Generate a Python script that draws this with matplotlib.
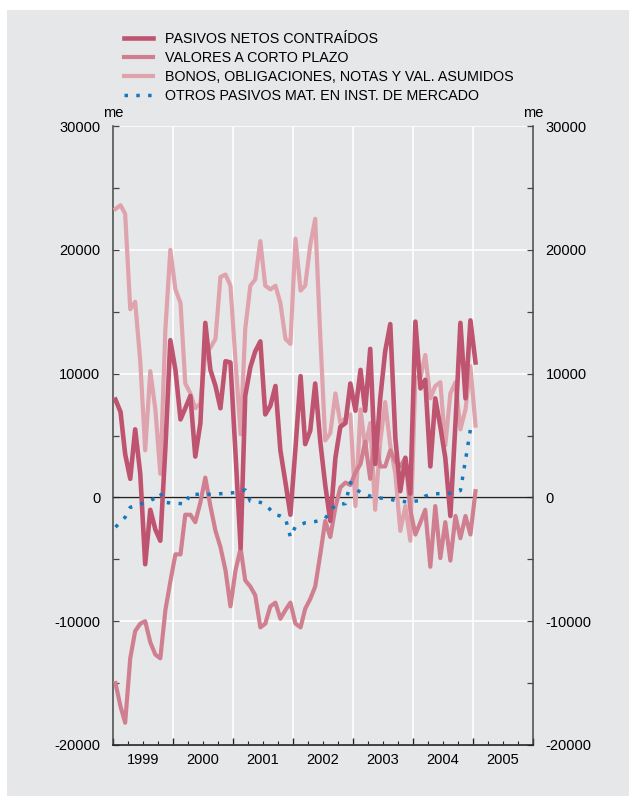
import numpy as np
import pandas as pd
import matplotlib
matplotlib.use("Agg")
import matplotlib.pyplot as plt
import matplotlib.dates as mdates
import matplotlib.transforms as mtransforms
from matplotlib.patches import Rectangle

plt.rcParams['font.family'] = ['Liberation Sans', 'DejaVu Sans']
plt.rcParams['axes.unicode_minus'] = False

# monthly data, millones de euros (Jan 1999 - Jan 2005)
months = pd.date_range('1999-01-01', periods=73, freq='MS') + pd.Timedelta(days=15)

pasivos_netos = [7900, 6900, 3500, 1500, 5500, 1900, -5400, -1000, -2600, -3500, 4000, 12700,
                 10300, 6300, 7200, 8200, 3300, 6000, 14100, 10300, 9000, 7200, 11000, 10900,
                 3500, -4100, 8200, 10500, 11800, 12600, 6700, 7400, 9000, 3800, 1200, -1400,
                 4000, 9800, 4300, 5400, 9200, 4500, 1000, -1900, 3200, 5700, 6000, 9200,
                 7000, 10300, 7000, 12000, 2700, 8000, 11800, 14000, 4800, 500, 3200, 300,
                 14200, 8800, 9500, 2500, 8000, 5700, 3200, -1500, 6000, 14100, 8000, 14300, 10900]

valores_cp = [-15000, -16900, -18200, -13000, -10800, -10200, -10000, -11700, -12700, -13000, -9100, -6800,
              -4600, -4600, -1400, -1400, -2000, -400, 1600, -700, -2700, -4000, -5900, -8800,
              -5900, -4100, -6700, -7200, -7900, -10500, -10200, -8800, -8500, -9800, -9100, -8500,
              -10200, -10500, -9000, -8200, -7200, -4600, -1900, -3200, -800, 800, 1200, 1000,
              2000, 2700, 4500, 1500, 5000, 2500, 2500, 3800, 2900, 2500, 3200, -1000,
              -3000, -2000, -1000, -5600, -700, -4900, -2000, -5100, -1500, -3300, -1500, -3000, 500]

bonos = [23300, 23600, 22900, 15200, 15800, 11000, 3800, 10200, 7100, 1900, 13600, 20000,
         16800, 15700, 9200, 8400, 7200, 7600, 11600, 12100, 12800, 17800, 18000, 17100,
         11000, 5100, 13600, 17100, 17600, 20700, 17100, 16800, 17100, 15700, 12800, 12400,
         20900, 16700, 17100, 20400, 22500, 13000, 4600, 5200, 8400, 6000, 6400, 6700,
         -700, 7100, 4000, 6000, -1000, 4500, 7700, 4200, 1900, -2700, -700, -3500,
         9700, 9700, 11500, 8000, 9000, 9300, 4200, 8400, 9300, 5500, 7100, 10600, 5800]

# this series stops one month earlier (Dec 2004)
otros = [-2400, -2000, -1600, -800, -650, -550, -400, -250, -50, 350, -400, -450,
         -450, -500, -550, 300, 250, 250, 250, 250, 250, 300, 300, 350,
         400, 500, 600, -300, -350, -400, -550, -1000, -1400, -1500, -1700, -3200,
         -2350, -2200, -2050, -2000, -1950, -1860, -1700, -1100, -600, -550, -500, 1200,
         700, 400, 250, 100, 0, -50, -100, -150, -250, -300, -350, -350,
         -300, -250, 100, 250, 300, 300, 300, 350, 450, 550, 3000, 5500]

labels = ['PASIVOS NETOS CONTRAÍDOS', 'VALORES A CORTO PLAZO',
          'BONOS, OBLIGACIONES, NOTAS Y VAL. ASUMIDOS',
          'OTROS PASIVOS MAT. EN INST. DE MERCADO']
years = list(range(1999, 2006))

c_dark = '#bf5471'
c_mid = '#cf7f8f'
c_light = '#dea3ad'
c_blue = '#1577bd'
bg = '#e6e7e8'

fig = plt.figure(figsize=(6.29, 7.96), dpi=100)
fig.patch.set_facecolor('white')
fig.patches.append(Rectangle((7 / 629, 0), 1, 786 / 796, transform=fig.transFigure,
                             facecolor=bg, edgecolor='none', zorder=-10))

ax = fig.add_axes([113 / 629, 51 / 796, 420 / 629, 619 / 796])
ax.set_facecolor(bg)

l3, = ax.plot(months, bonos, color=c_light, lw=3.0, zorder=3)
l2, = ax.plot(months, valores_cp, color=c_mid, lw=3.0, zorder=4)
l1, = ax.plot(months, pasivos_netos, color=c_dark, lw=3.3, zorder=5)
l4, = ax.plot(months[:len(otros)], otros, color=c_blue, lw=2.5,
              linestyle=(0, (1, 2.4)), dash_capstyle='butt', zorder=6)

ax.axhline(0, color='#222222', lw=1.0, zorder=2)

ax.set_xlim(pd.Timestamp('1999-01-01'), pd.Timestamp('2006-01-01'))
ax.set_ylim(-20000, 30000)

ax.xaxis.set_major_locator(mdates.YearLocator())
ax.xaxis.set_minor_locator(mdates.MonthLocator(bymonth=[1, 4, 7, 10]))
ax.xaxis.set_major_formatter(plt.NullFormatter())
ax.tick_params(axis='x', which='major', direction='in', length=5, width=1, color='#222222')
ax.tick_params(axis='x', which='minor', direction='in', length=3, width=0.8, color='#222222')

ax.set_yticks(np.arange(-20000, 30001, 10000))
ax.set_yticks(np.arange(-20000, 30001, 5000), minor=True)
ax.tick_params(axis='y', which='both', direction='in', length=4, width=0.9, color='#444444',
               left=True, right=True, labelleft=True, labelright=True, labelsize=10.5)
ax.tick_params(axis='y', which='major', pad=9)

ax.grid(True, which='major', color='white', lw=1.2, zorder=1)
ax.set_axisbelow(True)

for side in ['left', 'right']:
    ax.spines[side].set_color('#444444')
    ax.spines[side].set_linewidth(1.1)
ax.spines['bottom'].set_color('#222222')
ax.spines['bottom'].set_linewidth(1.2)
ax.spines['top'].set_visible(False)

# year labels centred under each year
below = mtransforms.blended_transform_factory(ax.transData, ax.transAxes) + \
    mtransforms.ScaledTranslation(0, -6 / 72, fig.dpi_scale_trans)
for yr in years:
    ax.text(pd.Timestamp(f'{yr}-07-01'), 0, str(yr), transform=below,
            ha='center', va='top', fontsize=10.5)

# unit markers above both axes
above = ax.transAxes + mtransforms.ScaledTranslation(0, 4 / 72, fig.dpi_scale_trans)
ax.text(0, 1.0, 'me', transform=above, ha='center', va='bottom', fontsize=10.5)
ax.text(1, 1.0, 'me', transform=above, ha='center', va='bottom', fontsize=10.5)

fig.legend([l1, l2, l3, l4], labels, loc='upper left', bbox_to_anchor=(124 / 629, 1 - 32 / 796),
           frameon=False, fontsize=10.3, handlelength=2.0, handletextpad=0.85,
           labelspacing=0.36, borderpad=0, borderaxespad=0)

fig.savefig('out.png', dpi=100, facecolor=fig.get_facecolor())
